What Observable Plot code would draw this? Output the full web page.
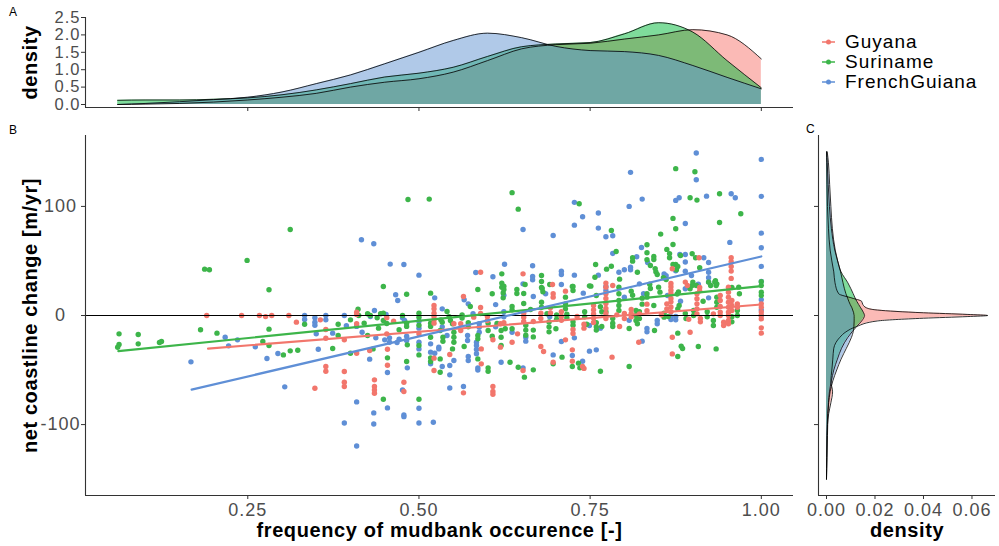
<!DOCTYPE html>
<html><head><meta charset="utf-8">
<script src="https://cdn.jsdelivr.net/npm/d3@7"></script>
<script src="https://cdn.jsdelivr.net/npm/@observablehq/plot@0.6"></script>
<style>
html,body{margin:0;padding:0;background:#fff;}
#root{position:relative;width:999px;height:546px;font-family:"Liberation Sans",Arial,sans-serif;overflow:hidden;background:#fff;}
#root svg text{letter-spacing:1px;}
#root svg g[font-weight="bold"] text{letter-spacing:0.6px;}
.panel{position:absolute;}
.tag{position:absolute;font-size:12px;line-height:12px;color:#000;letter-spacing:0.5px;}
.legend{position:absolute;left:821px;top:32px;font-size:19px;letter-spacing:1px;color:#000;}
.legend .row{height:20px;display:flex;align-items:center;}
.legend svg{display:block;}
</style>
</head><body>
<div id="root">
  <div class="tag" style="left:9px;top:6px">A</div>
  <div class="tag" style="left:9px;top:124px">B</div>
  <div class="tag" style="left:806px;top:123px">C</div>
  <div id="pa" class="panel" style="left:0;top:0"></div>
  <div id="pb" class="panel" style="left:0;top:120px"></div>
  <div id="pc" class="panel" style="left:800px;top:120px"></div>
  <div id="legend" class="legend"></div>
</div>
<script>
// ---------- categories & colours ----------
const countries = ["Guyana", "Suriname", "FrenchGuiana"];
const colors = ["#F2766C", "#3DB54A", "#5F8FD6"];
const densColors = ["#F8766D", "#00BA38", "#6193D1"];

// ---------- axis ticks ----------
const xTicks = [0.25, 0.5, 0.75, 1.0];
const yTicksB = [-100, 0, 100];
const yTicksA = [0, 0.5, 1, 1.5, 2, 2.5];
const xTicksC = [0, 0.02, 0.04, 0.06];

// ---------- scatter points [frequency, net change] ----------
const guyanaPts = [[0.590,39.7],[0.652,38.2],[0.695,28.4],[0.773,29.7],[0.783,27.5],[0.870,42.8],[0.909,53],[0.956,52.9],[0.956,49.3],[0.956,45],[0.956,40.7],[0.956,34],
[0.522,9.2],[0.522,6.1],[0.190,0],[0.241,0],[0.267,0],[0.276,-1],[0.285,0],[0.310,0],[0.321,-6.1],[0.356,-4],[0.364,-12.8],[0.364,-20.8],[0.364,-46.8],[0.364,-51.1],[0.348,-66.7],[0.391,-22.3],[0.391,-51.4],[0.391,-61.2],[0.391,-65.1],[0.409,3],[0.409,1],[0.409,-7.6],[0.409,-34.6],[0.428,-32.1],[0.435,-59],[0.435,-65.1],[0.435,-68.2],[0.435,-71.3],[0.453,-2.1],[0.453,-16.8],[0.454,-30.9],[0.454,-45.6],[0.463,-5.2],[0.478,-61.2],[0.478,-69.7],[0.500,-16.8],[0.522,-39.1],[0.522,-50.4],[0.522,2],[0.522,-1],[0.522,-4],[0.522,-7],
[0.545,-35.8],[0.551,-7.6],[0.561,-7.6],[0.561,-13.8],[0.565,17.4],[0.565,-70.9],[0.580,-1.5],[0.590,7.3],[0.590,1.8],[0.591,-30.6],[0.591,-44.3],[0.600,-0.9],[0.600,-4.6],[0.608,-22.2],[0.608,-69.7],[0.608,-65],[0.608,-72.2],[0.619,-7.6],[0.619,-29],[0.624,-6.7],[0.636,-24.5],[0.644,-16.8],[0.652,-50.4],[0.653,2],[0.653,-1.5],[0.653,-5.5],[0.667,-5.5],[0.678,-28.4],[0.682,-33],[0.678,2],[0.678,-2.7],[0.692,7],[0.692,2.4],[0.696,19.9],[0.696,16.8],[0.696,-42.8],[0.708,3.4],[0.708,-0.6],[0.708,-4.3],[0.714,-22.3],[0.714,22.3],[0.724,-31.5],[0.724,-41.9],[0.725,-12.8],[0.725,-16.5],[0.731,-0.9],[0.739,-46.8],[0.741,-48.5],[0.741,-8],[0.741,-11.6],[0.755,9.1],[0.755,5.2],[0.755,1.5],[0.755,-2.4],[0.755,-6.4],[0.773,26],[0.773,20],[0.773,15.6],[0.773,11],[0.773,6.4],[0.773,1.8],[0.773,-2.7],[0.782,-38.2],[0.789,0.6],[0.793,-10.1],[0.800,1.8],[0.800,-2.7],[0.810,5.5],[0.810,1.8],[0.810,-1.2],[0.821,-24.5],[0.822,1.5],[0.833,10.4],[0.833,4.3],[0.854,0.6],[0.862,10.7],[0.862,6.1],[0.868,29.4],[0.868,26.3],[0.868,23.2],[0.868,20.2],[0.868,15.6],[0.868,12.5],[0.868,7.9],[0.868,3.4],[0.870,-19.9],[0.870,-35.2],[0.889,30.6],[0.892,27.5],[0.894,-3.4],[0.896,-15.3],[0.906,19.9],[0.906,15.4],[0.906,10.7],[0.906,6.1],[0.906,1.5],[0.910,25.7],[0.910,22.6],[0.911,-2.7],[0.911,-5.8],[0.930,1.5],[0.940,18.3],[0.940,13.8],[0.940,8.3],[0.940,3.1],[0.940,0],[0.945,-6.1],[0.945,-9.2],[0.952,26],[0.952,21.4],[0.952,16.8],[0.952,12.2],[0.952,7.6],[0.952,3.1],[0.952,0],[0.952,-4.6],[0.952,-7.6],[0.957,13.8],[0.957,9.2],[0.957,4.6],[0.965,10.7],[0.965,7.6],[1.0,10.7],[1.0,7.6],[1.0,3.1],[1.0,0],[1.0,-3.1],[1.0,-11.3],[1.0,-16.2]];

const surinamePts = [[0.484,106.4],[0.515,106.7],[0.312,78.9],[0.249,50.5],[0.187,42.5],[0.194,41.9],[0.448,26.6],[0.281,23.6],
[0.636,112.6],[0.645,97.5],[0.734,102.5],[0.781,78],[0.788,58.7],[0.833,64.9],[0.853,74.6],[0.871,89],[0.875,79.5],[0.875,134.6],[0.871,65.1],[0.862,60.6],[0.903,131.8],[0.896,108],[0.906,105.8],[0.939,111.6],[0.939,85.3],[0.970,93.3],
[0.621,38.2],[0.621,29.7],[0.621,26],[0.655,28.4],[0.679,36.7],[0.679,31.2],[0.679,25.7],[0.691,28.4],[0.724,26.6],[0.749,27.2],[0.758,46.8],[0.757,35.1],[0.774,42.5],[0.781,45.2],[0.793,33.3],[0.812,52.9],[0.812,49.8],[0.819,39.7],[0.833,57.5],[0.833,51.1],[0.838,45.9],[0.843,54.1],[0.843,51.4],[0.845,43],[0.846,40],[0.848,37.6],[0.857,34.6],[0.861,33],[0.866,56.6],[0.866,53],[0.871,46.8],[0.875,46.8],[0.878,45],[0.876,42],[0.882,55],[0.899,56.6],[0.904,53],[0.910,43.8],[0.900,30.6],[0.905,27.5],[0.933,32],[0.935,29],[1.0,31],[1.0,27.5],[0.967,26],
[0.482,19.5],[0.517,20.5],[0.062,-16.8],[0.062,-26.6],[0.060,-29.1],[0.090,-17.4],[0.090,-26],[0.121,-24.8],[0.124,-23.9],[0.181,-13.1],[0.205,-16.2],[0.272,-23.9],[0.281,-12.5],[0.281,-27.5],[0.302,-36.1],[0.312,-32.4],[0.323,-31.8],[0.333,-8],[0.374,-30.3],[0.382,-8],[0.382,-18.3],[0.400,-4],[0.400,-34.6],[0.411,5.8],[0.412,0],[0.420,-7],[0.425,1.6],[0.429,0],[0.425,-18.3],[0.433,-30.6],[0.448,-76.8],[0.439,-2.1],[0.444,1.6],[0.448,2.1],[0.448,-4.6],[0.453,-7.3],[0.441,-11.6],[0.454,-38.8],[0.471,-13.1],[0.476,0],[0.482,-7],[0.482,-10],[0.483,-26.9],[0.482,-42.2],[0.500,2.1],[0.500,-1.5],[0.500,-9],[0.500,-27.5],[0.500,-36.1],[0.500,-76.8],[0.517,-7],[0.517,-10],[0.517,-19.9],[0.517,-38.8],[0.517,-42.2],[0.531,-13.8],[0.531,-39.8],[0.531,-52],
[0.532,-4],[0.534,-6.1],[0.535,-19.9],[0.535,-23.6],[0.549,-30.6],[0.541,3.7],[0.544,-1.2],[0.546,-4.6],[0.549,-7.6],[0.551,-15.4],[0.551,-19.9],[0.551,-24.5],[0.563,0.6],[0.563,-2.4],[0.566,-28.4],[0.575,8.3],[0.572,-6.7],[0.572,-10.4],[0.586,-18.3],[0.586,-21.4],[0.586,-39.8],[0.586,23.9],[0.601,-7],[0.601,-13.8],[0.601,-48],[0.601,-51.1],[0.607,19.9],[0.607,-19],[0.614,-7.3],[0.620,-13.8],[0.620,-19.9],[0.620,-27.5],[0.624,26.8],[0.624,23.8],[0.623,20.7],[0.623,16.2],[0.626,-12.2],[0.633,-42.8],[0.636,8.3],[0.636,5.2],[0.636,-12.2],[0.645,-47.4],[0.643,23.9],[0.643,20.2],[0.653,20.2],[0.653,11],[0.654,-56.5],[0.656,-8.9],[0.656,-13.4],[0.656,-18],[0.663,5.5],[0.667,-13.4],[0.667,-19.6],[0.667,-49.8],[0.679,12.2],[0.679,7.6],[0.680,24.8],[0.681,21.7],[0.687,1.6],[0.690,-6],[0.690,-10.4],[0.690,-15],[0.696,-44.3],[0.700,-12.2],[0.701,0.6],[0.701,-3.4],[0.709,-38.2],[0.714,16.8],[0.714,10.7],[0.714,6.1],[0.716,1.1],[0.716,-2],[0.724,-46.8],[0.725,26.6],[0.725,22.9],[0.725,-5.8],[0.725,-8.9],[0.733,-43.7],[0.735,-48],[0.742,3.4],[0.742,-1.2],[0.745,-8],[0.759,-6.7],[0.759,-10.4],[0.759,-13.4],[0.751,26.9],[0.759,18.3],[0.765,8],[0.767,3.4],[0.767,-10],[0.765,-51.1],[0.773,3.4],[0.783,-2.7],[0.783,-7],[0.783,-10.1],[0.792,26],[0.792,19.9],[0.792,13.8],[0.792,9.2],[0.792,4.6],[0.807,-11.9],[0.807,-46.8],[0.810,22.3],[0.812,18.6],[0.817,4.6],[0.817,0],[0.817,-4.6],[0.819,-7.6],[0.822,3.4],[0.822,-2.7],[0.826,15.9],[0.826,10.4],[0.833,19.9],[0.833,16.8],[0.837,28.7],[0.838,24.8],[0.843,9.2],[0.844,-13.8],[0.850,26],[0.852,21.4],[0.858,2.1],[0.858,-1.5],[0.864,-0.9],[0.878,-37.6],[0.878,-16.2],[0.877,19.6],[0.879,21.7],[0.878,6.1],[0.880,9.2],[0.883,-28.1],[0.885,-30.3],[0.889,1.8],[0.890,-2.7],[0.896,24.5],[0.899,27.5],[0.901,4.6],[0.901,0],[0.908,-28.4],[0.915,13.1],[0.923,30.6],[0.926,27.5],[0.921,3.4],[0.921,-1.2],[0.930,-4.6],[0.930,-9.2],[0.932,30.6],[0.934,27.5],[0.934,-30.6],[0.935,16.8],[0.935,12.2],[0.935,7.6],[0.957,25.7],[0.957,-1.2],[0.957,-5.8],[0.965,4.6],[0.965,0],[0.968,19.9],[1.0,21.4],[1.0,18.3]];

const frenchGuianaPts = [[0.416,69.4],[0.434,65.8],[0.458,47.1],[0.478,46.8],[0.500,37.0],
[0.652,78.9],[0.696,73.4],[0.727,103.7],[0.739,90.5],[0.727,82.8],[0.762,93.9],[0.762,80.1],[0.783,73.1],[0.773,72.2],[0.783,56.9],[0.809,131.2],[0.807,100],[0.826,106.7],[0.825,62.4],[0.875,105.5],[0.880,108],[0.889,84.4],[0.905,148.9],[0.905,124.5],[0.920,109.4],[0.956,111.6],[0.962,108],[0.954,67],[1.0,143.1],[1.0,109.2],[1.0,75.5],[1.0,62.1],[1.0,45],[1.0,31.2],
[0.583,39.4],[0.608,35.5],[0.625,47],[0.652,29],[0.666,45.6],[0.666,35.8],[0.666,32.8],[0.708,40.6],[0.708,37.6],[0.708,28.4],[0.727,37],[0.762,37],[0.773,26.6],[0.792,39.7],[0.800,41.9],[0.809,44.3],[0.809,41.9],[0.818,53.8],[0.822,29],[0.834,48.6],[0.858,38],[0.861,36.4],[0.875,41],[0.881,55.9],[0.889,55.9],[0.889,49],[0.889,40.6],[0.916,53],[0.923,48.6],[0.898,36.7],[0.923,39.7],[0.923,34.6],[0.923,30.6],
[0.466,19],[0.469,13.8],[0.167,-42.5],[0.217,-19.9],[0.235,-22.3],[0.222,-27.8],[0.261,-28.7],[0.278,-39.4],[0.294,-34.9],[0.304,-65.4],[0.333,0],[0.333,-3.7],[0.348,-2],[0.348,-6.1],[0.348,-8.9],[0.350,-16.8],[0.353,-30.9],[0.364,0],[0.364,-4],[0.374,-16.2],[0.391,0],[0.394,-9.4],[0.409,-10],[0.409,-79.2],[0.391,-98.5],[0.409,-119.6],[0.417,-15.3],[0.435,4.6],[0.429,-1],[0.437,-20.5],[0.428,-40],[0.434,-89.3],[0.434,-99.4],[0.454,-84.7],[0.452,0.9],[0.450,-22.3],[0.457,-20.5],[0.457,-24.5],[0.454,-52.3],[0.471,-21.7],[0.468,-24.8],[0.476,-2],[0.479,-4.6],[0.482,-19],[0.482,-22.9],[0.483,-48],[0.476,-68.2],[0.478,-91.1],[0.478,-92.7],[0.500,-5.2],[0.500,-11.6],[0.500,-24.5],[0.500,-30.6],[0.500,-85],[0.500,-98.5],[0.521,-97.9],[0.517,-26],[0.517,-33.6],[0.517,-44.3],[0.529,-29],
[0.523,16.2],[0.534,6.1],[0.523,-34.6],[0.529,-30.6],[0.534,-46.8],[0.534,-10.4],[0.545,-45.9],[0.545,-54.4],[0.545,-66.4],[0.551,-41.3],[0.541,-18.3],[0.566,14.4],[0.565,-65.1],[0.572,10.7],[0.571,-18.3],[0.571,-22.9],[0.572,-37.6],[0.572,-41.3],[0.579,1.6],[0.584,-24.5],[0.584,-27.5],[0.584,-31.2],[0.584,-35.1],[0.586,-48],[0.586,-50],[0.588,-7.6],[0.588,-10.7],[0.588,-15.3],[0.612,10],[0.612,-10.4],[0.620,-42.8],[0.624,3.4],[0.624,-1.2],[0.624,18.6],[0.636,-15.3],[0.652,-48],[0.656,-20],[0.656,-23.5],[0.667,17.4],[0.685,19.9],[0.691,-1.2],[0.696,-36.1],[0.708,-23.8],[0.724,-36.7],[0.727,-20.5],[0.739,-41.9],[0.740,20.5],[0.749,-32.7],[0.759,-31.5],[0.749,-9.2],[0.765,-11.6],[0.773,23],[0.800,16.8],[0.807,-4.3],[0.826,-23.5],[0.828,19.9],[0.833,-11.9],[0.833,-15],[0.848,-4.6],[0.848,-7.6],[0.863,18.3],[0.868,-1.2],[0.868,-3.7],[0.875,-0.9],[0.875,-4],[0.882,13.1],[0.889,24.5],[0.908,28.7],[0.923,16.2],[1.0,14.4],[1.0,5],[1.0,0]];

// ---------- linear fits (start / end) ----------
const fitX0 = [0.192, 0.061, 0.168];
const fitY0 = [-30.3, -32.7, -67.9];
const fitX1 = [1.0, 1.0, 1.0];
const fitY1 = [10.1, 26.9, 54.1];

// ---------- panel A densities (frequency) ----------
const densAx = [0.06,0.1,0.15,0.2,0.25,0.3,0.35,0.4,0.45,0.5,0.55,0.6,0.65,0.7,0.75,0.8,0.85,0.9,0.95,1.0];
const densAGuyana = [0.0,0.01,0.03,0.07,0.13,0.21,0.32,0.5,0.64,0.74,0.93,1.26,1.6,1.72,1.76,1.88,2.0,2.15,2.0,1.31];
const densASuriname = [0.12,0.13,0.13,0.15,0.19,0.28,0.42,0.6,0.79,0.9,1.07,1.38,1.66,1.74,1.78,2.03,2.35,2.08,1.26,0.48];
const densAFrench = [0.0,0.03,0.08,0.14,0.21,0.36,0.6,0.85,1.17,1.5,1.84,2.05,1.92,1.67,1.55,1.52,1.41,1.12,0.78,0.45];

// ---------- panel C densities (net change) ----------
const densCy = [-150,-130,-110,-100,-90,-80,-70,-60,-50,-40,-30,-20,-15,-10,-5,-2.5,-1,0,1,2.5,5,7,10,13,16,20,30,40,50,60,80,100,120,140,150];
const densCGuyana = [0,0.0001,0.0002,0.0004,0.0009,0.0018,0.0025,0.0018,0.0022,0.0026,0.003,0.0055,0.008,0.0125,0.021,0.04,0.058,0.0665,0.058,0.04,0.021,0.0165,0.015,0.0145,0.0105,0.005,0.0035,0.003,0.0022,0.0015,0.0008,0.0004,0.0002,0.0001,0];
const densCSuriname = [0,0.0001,0.0002,0.0003,0.0005,0.0008,0.0012,0.002,0.003,0.0045,0.0062,0.0088,0.0105,0.0125,0.0145,0.0153,0.0156,0.0157,0.0156,0.0153,0.0147,0.0141,0.0133,0.0125,0.0118,0.011,0.0088,0.006,0.0046,0.0034,0.002,0.0012,0.0007,0.0003,0.0001];
const densCFrench = [0,0.0002,0.0004,0.0005,0.0006,0.0009,0.0015,0.0026,0.0042,0.006,0.0082,0.0103,0.011,0.0113,0.0114,0.0114,0.0114,0.0114,0.0113,0.0112,0.0108,0.0105,0.0098,0.0092,0.0087,0.008,0.0068,0.0058,0.0046,0.0036,0.0024,0.0018,0.0013,0.0008,0.0003];

// ---------- build tables ----------
const ptsByCountry = {Guyana: guyanaPts, Suriname: surinamePts, FrenchGuiana: frenchGuianaPts};
const drawOrder = ["FrenchGuiana", "Suriname", "Guyana"];
const points = drawOrder.flatMap(c => ptsByCountry[c].map(([x, y]) => ({country: c, x, y})));
const fits = countries.flatMap((c, i) => [
  {country: c, x: fitX0[i], y: fitY0[i]},
  {country: c, x: fitX1[i], y: fitY1[i]}
]);
const densASeries = [densAGuyana, densASuriname, densAFrench];
const densA = countries.flatMap((c, i) => densAx.map((x, j) => ({country: c, x, d: densASeries[i][j]})));
const densCSeries = [densCGuyana, densCSuriname, densCFrench];
const densC = countries.flatMap((c, i) => densCy.map((v, j) => ({country: c, v, d: densCSeries[i][j]})));

const FONT = '"Liberation Sans", Arial, Helvetica, sans-serif';
const style = {fontFamily: FONT, fontSize: "18px", background: "transparent", overflow: "visible", color: "black"};
const color = {domain: countries, range: colors};
const densColor = {domain: countries, range: densColors};
const axisLine = {stroke: "#333", strokeWidth: 1.1};
const xDom = [0.013, 1.047];
const yDomB = [-165, 165];
const titleOpts = {fontSize: 20, fontWeight: "bold", fill: "black", textAnchor: "middle", lineAnchor: "middle"};

// ---------- Panel A ----------
const yDomA = [-0.086, 2.5];
const pa = Plot.plot({
  width: 800, height: 125,
  marginLeft: 85, marginRight: 7, marginTop: 17, marginBottom: 18,
  style, color: densColor,
  x: {domain: xDom, label: null},
  y: {domain: yDomA, label: null},
  marks: [
    Plot.area(densA, {x1: "x", y1: 0, y2: "d", z: "country", fill: "country", fillOpacity: 0.5, curve: "monotone-x"}),
    Plot.line(densA, {x: "x", y: "d", z: "country", stroke: "black", strokeWidth: 0.8, curve: "monotone-x"}),
    Plot.ruleX([xDom[0]], axisLine),
    Plot.ruleY([yDomA[0]], axisLine),
    Plot.axisY({ticks: yTicksA, tickFormat: d3.format(".1f"), tickSize: 4, tickPadding: 1, stroke: "#333", fill: "#4D4D4D", fontSize: 16.5, label: null}),
    Plot.axisX({ticks: xTicks, tickFormat: () => "", tickSize: 4, stroke: "#333", label: null}),
    Plot.text(["density"], {frameAnchor: "left", dx: -55, rotate: -90, ...titleOpts})
  ]
});
document.getElementById("pa").appendChild(pa);

// ---------- Panel B ----------
const pb = Plot.plot({
  width: 800, height: 426,
  marginLeft: 85, marginRight: 7, marginTop: 15, marginBottom: 51,
  style, color,
  x: {domain: xDom, label: null},
  y: {domain: yDomB, label: null},
  marks: [
    Plot.dot(points, {x: "x", y: "y", fill: "country", r: 2.7}),
    Plot.ruleY([0], {stroke: "black", strokeWidth: 1.1}),
    Plot.line(fits, {x: "x", y: "y", stroke: "country", strokeWidth: 2.2}),
    Plot.ruleX([xDom[0]], axisLine),
    Plot.ruleY([yDomB[0]], axisLine),
    Plot.axisX({ticks: xTicks, tickFormat: d3.format(".2f"), tickSize: 4, tickPadding: 4, stroke: "#333", fill: "#4D4D4D", fontSize: 18, label: null}),
    Plot.axisY({ticks: yTicksB, tickFormat: d => String(d), tickSize: 4, tickPadding: 21, textAnchor: "middle", stroke: "#333", fill: "#4D4D4D", fontSize: 18, label: null}),
    Plot.text(["net coastline change [m/yr]"], {frameAnchor: "left", dx: -55, rotate: -90, ...titleOpts}),
    Plot.text(["frequency of mudbank occurence [-]"], {frameAnchor: "bottom", dy: 35.5, ...titleOpts})
  ]
});
document.getElementById("pb").appendChild(pb);

// ---------- Panel C ----------
const xDomC = [-0.0033, 0.0697];
const pc = Plot.plot({
  width: 199, height: 426,
  marginLeft: 18, marginRight: 4, marginTop: 15, marginBottom: 51,
  style, color: densColor,
  x: {domain: xDomC, label: null},
  y: {domain: yDomB, label: null},
  marks: [
    Plot.area(densC, {y1: "v", x1: 0, x2: "d", z: "country", fill: "country", fillOpacity: 0.5, curve: "monotone-y"}),
    Plot.line(densC, {x: "d", y: "v", z: "country", stroke: "black", strokeWidth: 0.8, curve: "monotone-y"}),
    Plot.ruleX([xDomC[0]], axisLine),
    Plot.ruleY([yDomB[0]], axisLine),
    Plot.axisX({ticks: xTicksC, tickFormat: d3.format(".2f"), tickSize: 4, tickPadding: 4, stroke: "#333", fill: "#4D4D4D", fontSize: 18, label: null}),
    Plot.axisY({ticks: yTicksB, tickFormat: () => "", tickSize: 4, stroke: "#333", label: null}),
    Plot.text(["density"], {frameAnchor: "bottom", dy: 35.5, ...titleOpts})
  ]
});
document.getElementById("pc").appendChild(pc);

// ---------- Legend ----------
const leg = document.getElementById("legend");
countries.forEach((c, i) => {
  const row = document.createElement("div");
  row.className = "row";
  row.innerHTML = `<svg width="24" height="20"><line x1="1" x2="14" y1="10" y2="10" stroke="${colors[i]}" stroke-width="2" stroke-opacity="0.75"/><circle cx="7.5" cy="10" r="2.5" fill="${colors[i]}"/></svg><span>${c}</span>`;
  leg.appendChild(row);
});
</script>
</body></html>
